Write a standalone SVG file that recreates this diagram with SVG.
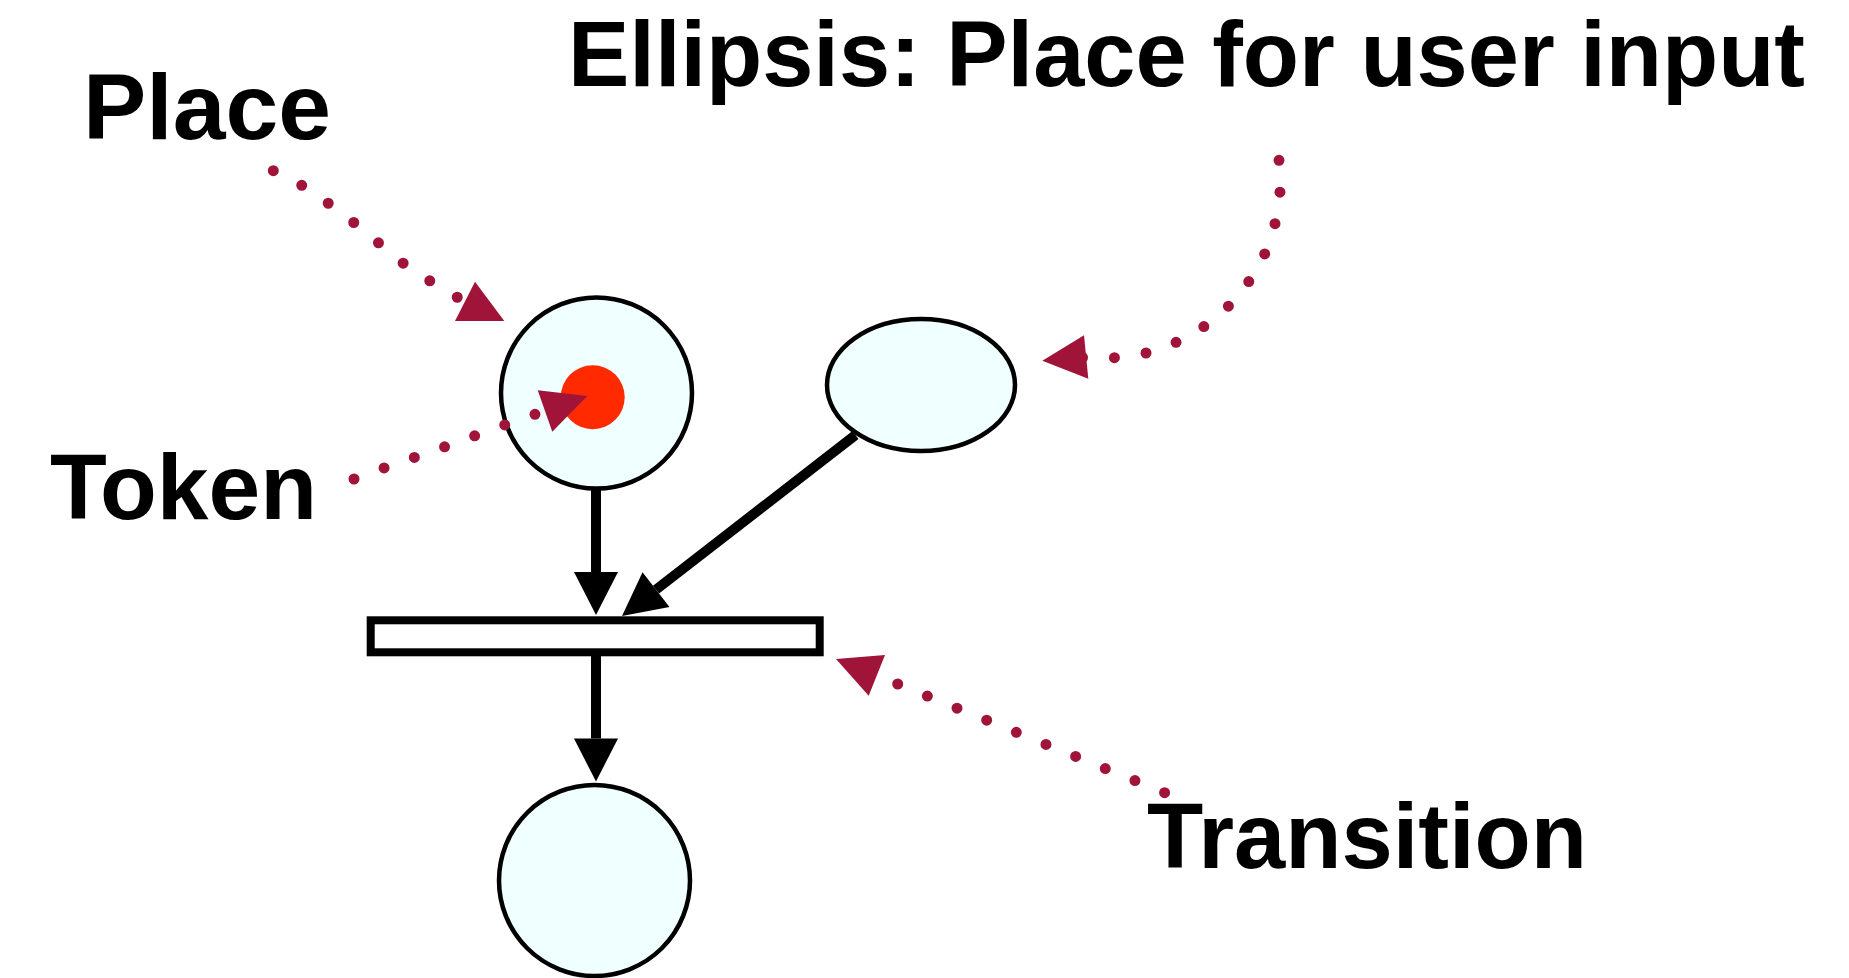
<svg xmlns="http://www.w3.org/2000/svg" width="1849" height="978" viewBox="0 0 1849 978">
  <style>
    .label { font-family: "Liberation Sans", Arial, Helvetica, sans-serif; font-weight: bold; font-size: 92px; fill: #000; }
    .place { fill: #f0ffff; stroke: #000; stroke-width: 4.5; }
    .arc { fill: none; stroke: #000; stroke-width: 10; }
    .note { fill: none; stroke: #a01439; stroke-width: 11; stroke-linecap: round; }
    .notehead { fill: #a01439; }
  </style>
  <defs>
    <marker id="arrow" markerUnits="userSpaceOnUse" markerWidth="44" markerHeight="44" refX="0" refY="22" orient="auto" viewBox="0 0 44 44" overflow="visible">
      <path d="M0,0 L43,22 L0,44 Z" fill="#000"/>
    </marker>
  </defs>
  <rect width="1849" height="978" fill="#fff"/>

  <g id="place-1">
    <circle class="place" cx="596.5" cy="393" r="95.5"/>
  </g>
  <g id="token">
    <circle cx="592.7" cy="397.2" r="32" fill="#ff2a00"/>
  </g>
  <g id="place-user-input">
    <ellipse class="place" cx="921" cy="385" rx="94" ry="66"/>
  </g>
  <g id="transition">
    <rect x="370.7" y="620.3" width="449" height="32" fill="#fff" stroke="#000" stroke-width="8"/>
  </g>
  <g id="place-2">
    <circle class="place" cx="594.5" cy="880.5" r="95.5"/>
  </g>

  <g id="connectors">
    <line class="arc" x1="596" y1="490" x2="596" y2="572" marker-end="url(#arrow)"/>
    <line class="arc" x1="855.5" y1="435" x2="656" y2="589.6" marker-end="url(#arrow)"/>
    <line class="arc" x1="596" y1="656" x2="596" y2="738.5" marker-end="url(#arrow)"/>
  </g>

  <g id="annotations">
    <g id="note-place">
      <path class="note" stroke-dasharray="0 31.98" d="M273.3,170.7 L301.7,185.3 L328.3,203.3 L354,222.7 L378.7,243 L403.3,263.3 L430,281 L457.3,297.3"/>
      <polygon class="notehead" points="475,281.7 455,321 504.3,321"/>
    </g>
    <g id="note-token">
      <path class="note" stroke-dasharray="0 32.03" d="M354,479 L384,468 L414.8,457.3 L445,446.7 L475,435.7 L504.7,425 L535,414.3"/>
      <polygon class="notehead" points="537.7,390.3 587.3,396 552.3,431.7"/>
    </g>
    <g id="note-ellipsis">
      <path class="note" stroke-dasharray="0 31.92" d="M1279,160.3 L1280,192 L1275,223.7 L1264.7,254 L1248.7,281.7 L1228.3,306.3 L1203.7,326.7 L1176,342.3 L1146,353 L1114.3,357.7 L1082.5,357.5"/>
      <polygon class="notehead" points="1084,335.3 1042.3,360.7 1088.3,378.7"/>
    </g>
    <g id="note-transition">
      <path class="note" stroke-dasharray="0 32.02" d="M897.7,684 L1164.6,792.7"/>
      <polygon class="notehead" points="836,659 885,655 868.7,695.7"/>
    </g>
  </g>

  <g id="labels">
    <text class="label" x="83" y="139.3" textLength="248" lengthAdjust="spacingAndGlyphs">Place</text>
    <text class="label" x="568" y="86" textLength="1237" lengthAdjust="spacingAndGlyphs">Ellipsis: Place for user input</text>
    <text class="label" x="50" y="519.3" textLength="267" lengthAdjust="spacingAndGlyphs">Token</text>
    <text class="label" x="1147" y="867.7" textLength="440" lengthAdjust="spacingAndGlyphs">Transition</text>
  </g>
</svg>
